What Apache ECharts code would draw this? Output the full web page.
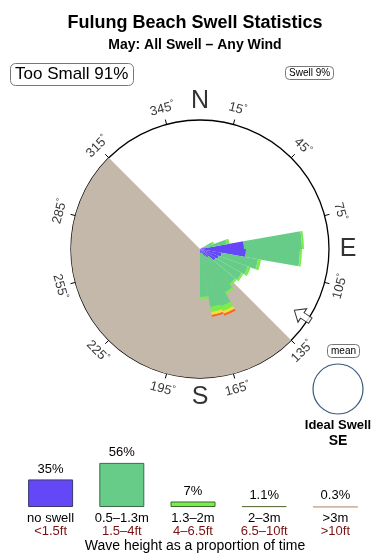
<!DOCTYPE html>
<html><head><meta charset="utf-8">
<script src="https://cdn.jsdelivr.net/npm/echarts@6/dist/echarts.min.js"></script>
<style>html,body{margin:0;padding:0;background:#fff}#c{width:390px;height:560px}</style>
</head><body><div id="c"></div>
<script>
// ---- data ----
const dirBins = [60,70,80,90,100,110,120,130,140,150,160,170];   // lower edge of 10° direction bins
const noSwell = [0.3,0.5,4.4,4.6,2.2,2.0,1.8,1.1,0.8,0.5,0.4,0.4];
const h05_13  = [1.0,2.2,5.8,5.4,3.7,3.1,3.0,3.5,4.2,5.6,5.5,4.4];
const h13_2   = [0.2,0.3,0.2,0.2,0.3,0.3,0.2,0.2,0.2,0.5,0.5,0.2];
const h2_3    = [0,0,0,0,0,0,0,0,0,0.3,0.3,0];
const h3p     = [0,0,0,0,0,0,0,0,0,0.2,0.2,0];
const degTicks = [15,45,75,105,135,165,195,225,255,285,315,345];
const compass = ['N','E','S','W'];
const compassDeg = [0,90,180,270];
const shadowFrom = 135, shadowTo = 315;
const meanDir = 123;
const sizeCats = ['no swell','0.5\u20131.3m','1.3\u20132m','2\u20133m','>3m'];
const sizeFt = ['<1.5ft','1.5\u20134ft','4\u20136.5ft','6.5\u201310ft','>10ft'];
const sizePct = [35,56,7,1.1,0.3];
const sizePctLabels = ['35%','56%','7%','1.1%','0.3%'];

const FONT = "'Liberation Sans', Arial, Helvetica, sans-serif";
const colors = ['#6448f8','#66cc88','#77ee4a','#f2df3a','#ff6424'];
const borders = ['#3a3a6a','#3b6b4a','#3d6a2a','#607040','#c8a898'];

const nb = 36;
const cats = Array.from({length:nb},(_,i)=>String(i*10));
function toFull(arr){const f=new Array(nb).fill(0);dirBins.forEach((d,i)=>{f[d/10]=arr[i];});return f;}
const stacks = [noSwell,h05_13,h13_2,h2_3,h3p];

const cx=200, cy=249, R=129, RL=148;

const roseSeries = stacks.map((arr,k)=>({
  type:'bar', coordinateSystem:'polar', polarIndex:0, stack:'rose',
  barCategoryGap:'0%', barGap:'0%', data:toFull(arr),
  itemStyle:{color:colors[k]}, silent:true, z:3
}));

function cwRot(b){let r=b; if(b>90&&b<270) r=b-180; else if(b>=270) r=b-360; return r;}

const labelData = degTicks.map(b=>({value:[145,b], name:String(b), label:{rotate:-cwRot(b)}}));
const compassData = compass.map((c,i)=>({value:[i===3?151:148, compassDeg[i]], name:c}));

const option = {
  animation:false,
  textStyle:{fontFamily:FONT},
  title:[
    {text:'Fulung Beach Swell Statistics', left:'center', top:9, textStyle:{fontSize:18,fontWeight:'bold',color:'#000',fontFamily:FONT}},
    {text:'May: All Swell \u2013 Any Wind', left:'center', top:33, textStyle:{fontSize:14,fontWeight:'bold',color:'#000',fontFamily:FONT}},
    {text:'Too Small 91%', left:10, top:63, padding:[3,5,3,5], borderColor:'#777', borderWidth:1, borderRadius:5,
      textStyle:{fontSize:17,fontWeight:'normal',color:'#000',fontFamily:FONT}},
    {text:'Swell 9%', left:285, top:66, padding:[2,4,2,4], borderColor:'#777', borderWidth:1, borderRadius:4,
      textStyle:{fontSize:10,fontWeight:'normal',color:'#000',fontFamily:FONT}},
    {text:'mean', left:327, top:344, padding:[2,4,2,4], borderColor:'#777', borderWidth:1, borderRadius:4,
      textStyle:{fontSize:10,fontWeight:'normal',color:'#000',fontFamily:FONT}}
  ],
  polar:[
    {center:[cx,cy], radius:R},
    {center:[cx,cy], radius:RL},
    {center:[cx,cy], radius:R}
  ],
  angleAxis:[
    {polarIndex:0, type:'category', data:cats, startAngle:90, clockwise:true, boundaryGap:true,
      axisLine:{show:false}, axisTick:{show:false}, axisLabel:{show:false}, splitLine:{show:false}},
    {polarIndex:1, type:'value', min:0, max:360, startAngle:90, clockwise:true, show:false},
    {polarIndex:2, type:'value', min:15, max:375, interval:30, startAngle:75, clockwise:true,
      axisLine:{show:true, lineStyle:{color:'#000',width:1.3}},
      axisTick:{show:true, inside:false, length:5, lineStyle:{color:'#000',width:1}},
      axisLabel:{show:false}, splitLine:{show:false}}
  ],
  radiusAxis:[
    {polarIndex:0, type:'value', min:0, max:12.9, show:false},
    {polarIndex:1, type:'value', min:0, max:RL, show:false},
    {polarIndex:2, type:'value', min:0, max:1, show:false}
  ],
  grid:{left:15, right:19, top:455, height:52},
  xAxis:{type:'category', data:sizeCats, axisLine:{show:false}, axisTick:{show:false},
    axisLabel:{margin:5, interval:0, formatter:(v,i)=>'{a|'+v+'}\n{b|'+sizeFt[i]+'}',
      rich:{a:{fontSize:13,color:'#000',lineHeight:13,fontFamily:FONT}, b:{fontSize:13,color:'#7a1212',lineHeight:13,fontFamily:FONT}}}},
  yAxis:{type:'value', min:0, max:66, show:false},
  graphic:[
    {type:'text', style:{text:'Wave height as a proportion of time', x:195, y:546, textAlign:'center', textVerticalAlign:'middle', font:'14px '+FONT, fill:'#000'}},
    {type:'circle', shape:{cx:338, cy:389, r:25}, style:{fill:'#fff', stroke:'#3a5a7a', lineWidth:1.2}},
    {type:'text', style:{text:'Ideal Swell', x:338, y:425, textAlign:'center', textVerticalAlign:'middle', font:'bold 13px '+FONT, fill:'#000'}},
    {type:'text', style:{text:'SE', x:338, y:441, textAlign:'center', textVerticalAlign:'middle', font:'bold 14px '+FONT, fill:'#000'}}
  ],
  series:[
    {type:'pie', center:[cx,cy], radius:[0,R], startAngle:90-shadowFrom, clockwise:true, silent:true,
      label:{show:false}, labelLine:{show:false}, z:1,
      data:[{value:shadowTo-shadowFrom, itemStyle:{color:'#c3b8aa'}},{value:360-(shadowTo-shadowFrom), itemStyle:{color:'rgba(0,0,0,0)'}}]},
    ...roseSeries,
    {type:'scatter', coordinateSystem:'polar', polarIndex:1, symbolSize:1, itemStyle:{color:'rgba(0,0,0,0)'}, silent:true, z:5,
      label:{show:true, position:'inside', formatter:'{n|{b}}{d|\u00b0}', color:'#000', fontFamily:FONT,
        rich:{n:{fontSize:13,color:'#000',fontFamily:FONT}, d:{fontSize:9,color:'#000',fontFamily:FONT,verticalAlign:'top',padding:[0,0,6,0]}}},
      data:labelData},
    {type:'scatter', coordinateSystem:'polar', polarIndex:1, symbolSize:1, itemStyle:{color:'rgba(0,0,0,0)'}, silent:true, z:5,
      label:{show:true, position:'inside', formatter:'{b}', fontSize:25, color:'#000', fontFamily:FONT}, data:compassData},
    {type:'scatter', coordinateSystem:'polar', polarIndex:1, silent:true, z:6,
      symbol:'path://M10,0 L20,10 L14,10 L14,20 L6,20 L6,10 L0,10 Z', symbolSize:[16,19],
      symbolRotate:-(meanDir+180), itemStyle:{color:'#fff', borderColor:'#000', borderWidth:1},
      data:[[122, meanDir]]},
    {type:'bar', data:sizePct.map((v,i)=>({value:v, itemStyle:{color:colors[i], borderColor:borders[i], borderWidth:1}})),
      barWidth:45, silent:true,
      label:{show:true, position:'top', distance:4, fontSize:13, color:'#000', fontFamily:FONT, formatter:p=>sizePctLabels[p.dataIndex]}}
  ]
};
const chart = echarts.init(document.getElementById('c'), null, {renderer:'canvas'});
chart.setOption(option);
</script></body></html>
